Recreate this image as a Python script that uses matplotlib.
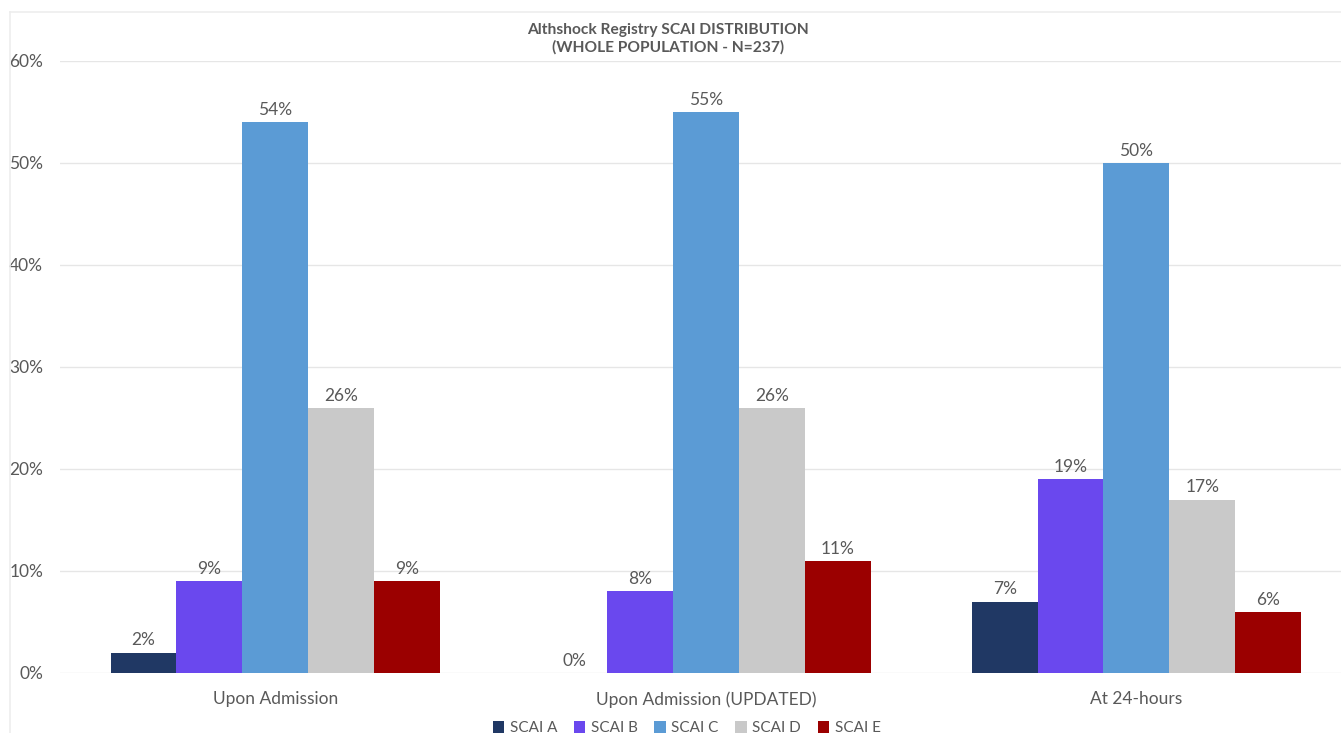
import numpy as np
import matplotlib.pyplot as plt
from matplotlib.lines import Line2D

plt.rcParams['font.family'] = ['Lato', 'DejaVu Sans']

categories = ["Upon Admission", "Upon Admission (UPDATED)", "At 24-hours"]
series = ["SCAI A", "SCAI B", "SCAI C", "SCAI D", "SCAI E"]
values = {
    "SCAI A": [2, 0, 7],
    "SCAI B": [9, 8, 19],
    "SCAI C": [54, 55, 50],
    "SCAI D": [26, 26, 17],
    "SCAI E": [9, 11, 6],
}
colors = ["#203864", "#6A48EE", "#5B9BD5", "#C9C9C9", "#9B0000"]

txt = "#595959"
fig = plt.figure(figsize=(13.41, 7.33), dpi=100)
ax = fig.add_axes([0.0447, 0.0819, 0.9633, 0.8349])

x = np.arange(len(categories))
w = 0.153
for i, s in enumerate(series):
    pos = x + (i - 2) * w
    ax.bar(pos, values[s], w, color=colors[i], label=s, zorder=3)
    for p, v in zip(pos, values[s]):
        ax.text(p, v + 0.4, f"{v}%", ha='center', va='bottom', fontsize=12.5, color=txt)

ax.set_xlim(-0.5, 2.5)
ax.set_ylim(0, 60)
ax.set_yticks(range(0, 61, 10))
ax.set_yticklabels([f"{t}%" for t in range(0, 61, 10)])
ax.set_xticks(x)
ax.set_xticklabels(categories)
ax.tick_params(axis='both', length=0, labelsize=12.5, colors=txt)
ax.tick_params(axis='y', pad=12)
ax.tick_params(axis='x', pad=13)
ax.grid(axis='y', color='#E6E6E6', linewidth=1, zorder=0)
for sp in ax.spines.values():
    sp.set_visible(False)

fig.text(0.498, 1 - 39 / 733, "Althshock Registry SCAI DISTRIBUTION\n(WHOLE POPULATION - N=237)",
         ha='center', va='center', fontsize=11.2, fontweight='bold', color=txt, linespacing=1.3)

fig.legend(loc='lower center', bbox_to_anchor=(0.512, -0.022), ncol=5, frameon=False,
           fontsize=11, labelcolor=txt, handlelength=0.75, handleheight=0.75,
           handletextpad=0.35, columnspacing=1.1)

# faint chart-area border
fig.add_artist(Line2D([10 / 1341, 10 / 1341], [0, 1 - 12 / 733], color='#EDEDED', lw=1.2))
fig.add_artist(Line2D([10 / 1341, 1], [1 - 12 / 733, 1 - 12 / 733], color='#EDEDED', lw=1.2))

fig.savefig("out.png", dpi=100)
